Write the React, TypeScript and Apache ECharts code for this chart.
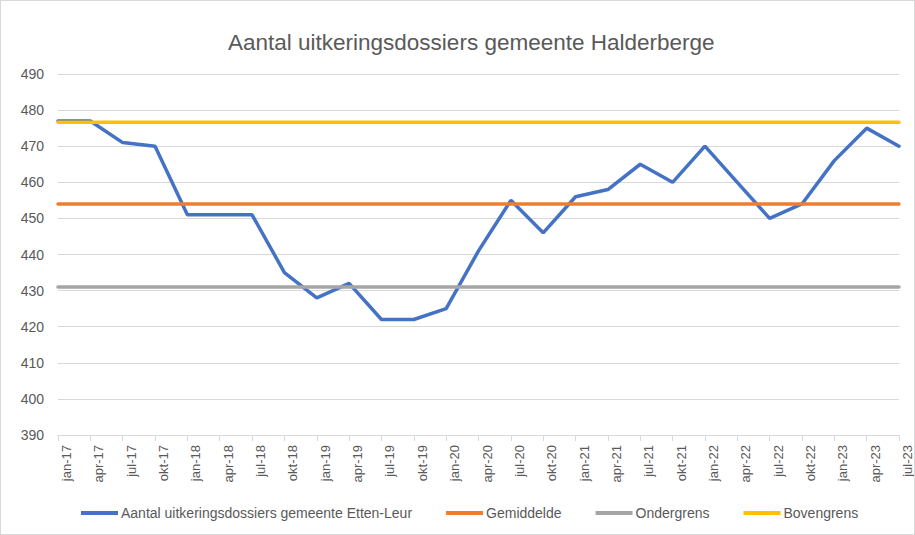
import React, { useEffect, useRef } from "react";
import * as echarts from "echarts";

const categories = [
  "jan-17", "apr-17", "jul-17", "okt-17",
  "jan-18", "apr-18", "jul-18", "okt-18",
  "jan-19", "apr-19", "jul-19", "okt-19",
  "jan-20", "apr-20", "jul-20", "okt-20",
  "jan-21", "apr-21", "jul-21", "okt-21",
  "jan-22", "apr-22", "jul-22", "okt-22",
  "jan-23", "apr-23", "jul-23",
];

const dossiers = [
  477, 477, 471, 470,
  451, 451, 451, 435,
  428, 432, 422, 422,
  425, 441, 455, 446,
  456, 458, 465, 460,
  470, 460, 450, 454,
  466, 475, 470,
];

const gemiddelde = 454;
const ondergrens = 431;
const bovengrens = 476.6;

const yTicks = { min: 390, max: 490, interval: 10 };

const FONT = "Liberation Sans, Arial, sans-serif";

export default function App() {
  const ref = useRef<HTMLDivElement>(null);

  useEffect(() => {
    if (!ref.current) return;
    const chart = echarts.init(ref.current, undefined, { renderer: "svg" });
    const lineSeries = (name: string, data: number[], color: string) => ({
      name,
      type: "line",
      data,
      symbol: "none",
      lineStyle: { color, width: 3.5, cap: "round" },
      itemStyle: { color },
    });
    chart.setOption({
      animation: false,
      backgroundColor: "#ffffff",
      textStyle: { fontFamily: FONT },
      title: {
        text: "Aantal uitkeringsdossiers gemeente Halderberge",
        left: 222,
        top: 25,
        textStyle: { fontFamily: FONT, fontSize: 22.5, fontWeight: "normal", color: "#595959" },
      },
      grid: { left: 57, right: 7, top: 73, bottom: 99 },
      legend: {
        bottom: 9,
        left: 75,
        icon: "rect",
        itemWidth: 37,
        itemHeight: 4,
        itemGap: 34,
        textStyle: { fontFamily: FONT, fontSize: 14, color: "#595959", padding: [0, 0, 0, -2] },
        data: [
          "Aantal uitkeringsdossiers gemeente Etten-Leur",
          "Gemiddelde",
          "Ondergrens",
          "Bovengrens",
        ],
      },
      xAxis: {
        type: "category",
        data: categories,
        boundaryGap: false,
        axisLine: { lineStyle: { color: "#d9d9d9", width: 1 } },
        axisTick: { show: true, interval: 0, length: 6, lineStyle: { color: "#d9d9d9" } },
        axisLabel: {
          interval: 0,
          rotate: 90,
          fontFamily: FONT,
          fontSize: 13,
          color: "#595959",
          margin: 10,
          verticalAlign: "top",
          padding: [2, 0, 0, 0],
        },
      },
      yAxis: {
        type: "value",
        min: yTicks.min,
        max: yTicks.max,
        interval: yTicks.interval,
        axisLine: { show: false },
        axisTick: { show: false },
        splitLine: { lineStyle: { color: "#d9d9d9", width: 1 } },
        axisLabel: { fontFamily: FONT, fontSize: 14, color: "#595959", margin: 14 },
      },
      series: [
        lineSeries("Aantal uitkeringsdossiers gemeente Etten-Leur", dossiers, "#4472C4"),
        lineSeries("Gemiddelde", categories.map(() => gemiddelde), "#ED7D31"),
        lineSeries("Ondergrens", categories.map(() => ondergrens), "#A5A5A5"),
        lineSeries("Bovengrens", categories.map(() => bovengrens), "#FFC000"),
      ],
    });
    return () => chart.dispose();
  }, []);

  return (
    <div
      style={{
        position: "absolute",
        left: 0,
        top: 0,
        width: 915,
        height: 535,
        boxSizing: "border-box",
        border: "1px solid #d9d9d9",
        background: "#fff",
      }}
    >
      <div ref={ref} style={{ width: 913, height: 533 }} />
    </div>
  );
}
